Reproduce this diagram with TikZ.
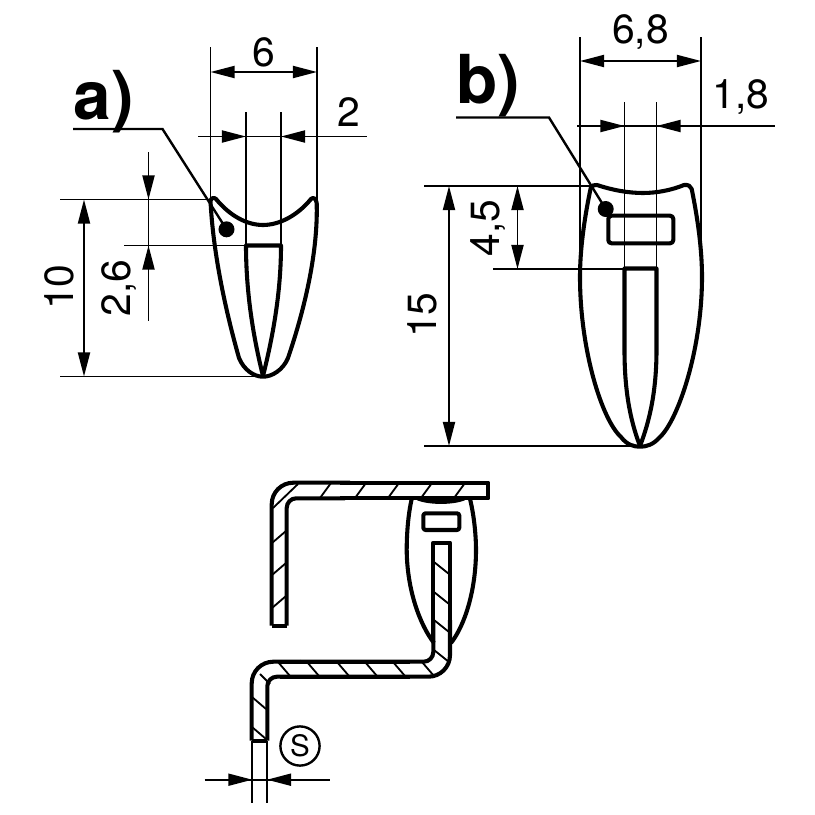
\documentclass[tikz,border=0pt]{standalone}
\usepackage{fontspec}
\setmainfont{TeX Gyre Heros}
\usetikzlibrary{arrows.meta}

\begin{document}
\begin{tikzpicture}[x=0.0125cm,y=-0.0125cm]
	\tikzstyle{outline}=[draw, line width=1.45pt, line join=round]
	\tikzstyle{thinline}=[draw, line width=0.65pt]
	\tikzstyle{dimarrow}=[thinline, {Triangle[length=0.3cm,width=0.15cm]}-{Triangle[length=0.3cm,width=0.15cm]}]
	\tikzstyle{dimleft}=[thinline, -{Triangle[length=0.3cm,width=0.15cm]}]
	\tikzstyle{dimlabel}=[font=\fontsize{14.5pt}{16pt}\selectfont, inner sep=0pt]
	\tikzstyle{partlabel}=[font=\fontsize{24pt}{26pt}\selectfont\bfseries, inner sep=0pt]
	\tikzstyle{dotmark}=[circle, fill=black, minimum size=0.2cm, inner sep=0pt]

	\useasboundingbox [fill=white] (0,0) rectangle (815,815);

	% Part a
	\path [outline] (210.5,201) .. controls (211,198) and (214,197) .. (216,199)
		.. controls (230,216) and (247,225) .. (263,225)
		.. controls (279,225) and (297,216) .. (311,199)
		.. controls (313,197) and (316,198) .. (316.7,203)
		.. controls (318,250) and (306,305) .. (288,358)
		.. controls (283,370) and (272,376.7) .. (263,376.7)
		.. controls (254,376.7) and (244,370) .. (239,358)
		.. controls (224,305) and (213,250) .. cycle;
	\path [outline] (263,376) .. controls (254,340) and (246,295) .. (246,245.5)
		-- (281,245.5) .. controls (281,295) and (272,340) .. (263,376);

	\node [partlabel] at (104,102) (lbla) {a)};
	\node [dotmark] at (226.5,229.3) (dota) {};
	\path [thinline, line width=0.85pt] (73,129) -- (162.5,129) -- (dota.center);

	% Dimensions of a
	\path [thinline] (210.5,47) -- (210.5,200);
	\path [thinline] (317,47) -- (317,200);
	\path [thinline] (246,112) -- (246,245);
	\path [thinline] (281,112) -- (281,245);
	\path [dimarrow] (210.5,72) -- (317,72);
	\node [dimlabel] at (264,52) (dimsix) {6};
	\path [thinline] (198,136.5) -- (367,136.5);
	\path [dimleft] (222,136.5) -- (246,136.5);
	\path [dimleft] (305,136.5) -- (281,136.5);
	\node [dimlabel] at (349,112) (dimtwo) {2};
	\path [thinline] (60,199.5) -- (211,199.5);
	\path [thinline] (60,376.5) -- (262,376.5);
	\path [dimarrow] (84,199.5) -- (84,376.5);
	\node [dimlabel, rotate=90] at (59,287) (dimten) {10};
	\path [thinline] (124,245.5) -- (246,245.5);
	\path [thinline] (148.5,152) -- (148.5,321);
	\path [dimleft] (148.5,175) -- (148.5,199.5);
	\path [dimleft] (148.5,270) -- (148.5,245.5);
	\node [dimlabel, rotate=90] at (119,288) (dimtwosix) {2,6};

	% Part b
	\path [outline] (590.7,188) .. controls (592,185.5) and (594,184.5) .. (597,185)
		.. controls (612,190) and (628,193) .. (643,193)
		.. controls (657,193) and (672,190) .. (684,185)
		.. controls (688,184.5) and (691,186) .. (691.7,189)
		.. controls (698,220) and (702,250) .. (702,277)
		.. controls (702,350) and (678,420) .. (660,437)
		.. controls (653,445) and (646,446.7) .. (640,446.7)
		.. controls (634,446.7) and (627,445) .. (621,437)
		.. controls (602,420) and (580,350) .. (580,277)
		.. controls (580,250) and (584,220) .. cycle;
	\path [outline] (640,446) .. controls (630,420) and (624.5,390) .. (624.5,350)
		-- (624.5,268.5) -- (656.5,268.5) -- (656.5,350)
		.. controls (656.5,390) and (650,420) .. (640,446);
	\path [outline, rounded corners=0.04cm] (608.3,215.7) rectangle (673.3,243.3);

	\node [partlabel] at (488,86) (lblb) {b)};
	\node [dotmark] at (605.7,209) (dotb) {};
	\path [thinline, line width=0.85pt] (456,117.5) -- (549,117.5) -- (dotb.center);

	% Dimensions of b
	\path [thinline] (580,37) -- (580,277);
	\path [thinline] (701,37) -- (701,277);
	\path [thinline] (624.5,102) -- (624.5,269);
	\path [thinline] (656.5,102) -- (656.5,269);
	\path [dimarrow] (580,61) -- (701,61);
	\node [dimlabel] at (640.5,32) (dimsixeight) {6,8};
	\path [thinline] (577,126) -- (775,126);
	\path [dimleft] (600.5,126) -- (624.5,126);
	\path [dimleft] (680.5,126) -- (656.5,126);
	\node [dimlabel] at (741,97) (dimoneeight) {1,8};
	\path [thinline] (424,186) -- (592,186);
	\path [thinline] (424,446) -- (640,446);
	\path [dimarrow] (449,186) -- (449,446);
	\node [dimlabel, rotate=90] at (422.5,315) (dimfifteen) {15};
	\path [thinline] (493,269) -- (625,269);
	\path [dimarrow] (517.5,186) -- (517.5,269);
	\node [dimlabel, rotate=90] at (488,228) (dimfourfive) {4,5};

	% Assembly, spring clip
	\path [outline] (411.7,499) .. controls (408,515) and (406.7,535) .. (406.7,550)
		.. controls (407,590) and (420,625) .. (434,643);
	\path [outline] (470,499) .. controls (474,515) and (476,535) .. (476,550)
		.. controls (476,590) and (465,625) .. (451,643);
	\path [outline, fill=black] (418,498.5) .. controls (430,503) and (452,503) .. (464,498.5) -- cycle;
	\path [outline, rounded corners=0.03cm] (423.3,513.3) rectangle (459.3,530);

	% Assembly, upper plate
	\begin{scope}[rounded corners=0.27cm]
		\path [outline] (271.7,625.7) -- (271.7,482.7) -- (350,482.7);
	\end{scope}
	\path [outline] (340,482.7) -- (488.3,482.7) -- (488.3,498.3) -- (340,498.3);
	\begin{scope}[rounded corners=0.12cm]
		\path [outline] (345,498.3) -- (286.7,498.3) -- (286.7,625.7);
	\end{scope}
	\path [outline] (271.7,625.7) -- (286.7,625.7);
	\foreach \Xh in {320,355,388,421,454}
		\path [thinline] (\Xh,498) -- (\Xh+11,483);
	\path [thinline] (273,508) -- (298,484);
	\foreach \Yh in {543,575,608}
		\path [thinline] (272,\Yh) -- (286,\Yh-12);

	% Assembly, lower bracket
	\begin{scope}[rounded corners=0.27cm]
		\path [outline] (251.7,740.7) -- (251.7,661.7) -- (300,661.7);
		\path [outline] (400,676.7) -- (450,676.7) -- (450,620);
	\end{scope}
	\begin{scope}[rounded corners=0.12cm]
		\path [outline] (300,661.7) -- (433.3,661.7) -- (433.3,620);
		\path [outline] (400,676.7) -- (267.3,676.7) -- (267.3,740.7);
	\end{scope}
	\path [outline] (280,661.7) -- (410,661.7);
	\path [outline] (280,676.7) -- (410,676.7);
	\path [outline] (433.3,640) -- (433.3,542.7) -- (450,542.7) -- (450,640);
	\path [outline] (251.7,740.7) -- (267.3,740.7);
	\foreach \Xh in {278,307,337,365,393,422}
		\path [thinline] (\Xh,662) -- (\Xh+12,676);
	\foreach \Yh in {562,592,620,650}
		\path [thinline] (434,\Yh) -- (449,\Yh+12);
	\path [thinline] (260,674) -- (270,684);
	\foreach \Yh in {697,727}
		\path [thinline] (252,\Yh) -- (266,\Yh+12);

	% Dimension S
	\path [thinline] (252.3,741) -- (252.3,803);
	\path [thinline] (267,741) -- (267,803);
	\path [thinline] (204.5,779.7) -- (330,779.7);
	\path [dimleft] (228,779.7) -- (252.3,779.7);
	\path [dimleft] (291,779.7) -- (267,779.7);
	\node [draw, circle, line width=0.85pt, minimum size=0.49cm, inner sep=0pt, font=\fontsize{10.5pt}{12pt}\selectfont] at (300,746) (dims) {S};

\end{tikzpicture}
\end{document}
